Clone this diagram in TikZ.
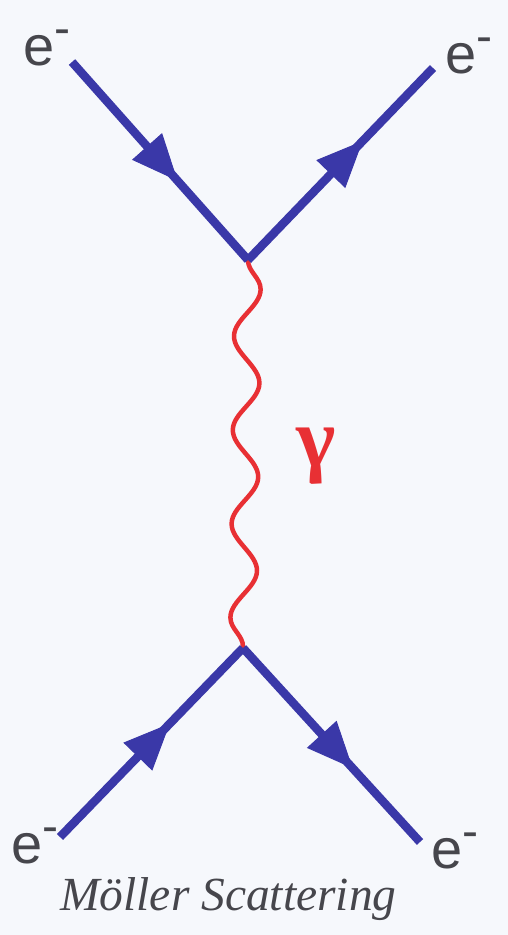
\documentclass[tikz,border=0pt]{standalone}
\usepackage{fontspec}
\usetikzlibrary{arrows.meta,decorations.markings,decorations.pathmorphing}
\newfontfamily\labelfont{Liberation Sans}
\newfontfamily\seriffont{Liberation Serif}
\definecolor{elecblue}{RGB}{58,56,168}
\definecolor{photred}{RGB}{232,48,52}
\definecolor{labelgray}{RGB}{70,70,76}
\definecolor{pagebg}{RGB}{246,248,252}
\newcommand{\eminus}{e\raisebox{0.36em}{\fontsize{48}{48}\selectfont -}}
\tikzset{
  fermion/.style={draw=elecblue, line width=8.5pt, postaction={decorate},
    decoration={markings, mark=at position #1 with {\arrow[elecblue, line width=1pt]{Triangle[length=46pt,width=40pt]}}}},
  photon/.style={draw=photred, line width=4.5pt, decorate,
    decoration={snake, segment length=93.8pt, amplitude=13pt}},
  elabel/.style={text=labelgray, font=\labelfont\fontsize{56}{60}\selectfont, inner sep=0pt, anchor=base west}
}
\begin{document}
\begin{tikzpicture}[x=1pt,y=-1pt]
\fill[pagebg] (0,0) rectangle (508,935);
\useasboundingbox (0,0) rectangle (508,935);
\coordinate (vtop) at (248,260);
\coordinate (vbot) at (243,648);
\coordinate (inA) at (72,62);
\coordinate (outA) at (433,68);
\coordinate (inB) at (60,837);
\coordinate (outB) at (420,842);
\draw[photon] (vtop) -- (vbot);
\draw[fermion=0.6] (inA) -- (vtop);
\draw[fermion=0.62] (vtop) -- (outA);
\draw[fermion=0.6] (inB) -- (vbot);
\draw[fermion=0.62] (vbot) -- (outB);
\node[elabel] (lA) at (23,65) {\eminus};
\node[elabel] (lB) at (445,73) {\eminus};
\node[elabel] (lC) at (11,863) {\eminus};
\node[elabel] (lD) at (431,868) {\eminus};
\node[text=photred, font=\seriffont\bfseries\fontsize{84}{88}\selectfont, inner sep=0pt, anchor=base west] (gam) at (296,466) {γ};
\node[text=labelgray, font=\seriffont\itshape\fontsize{47.5}{52}\selectfont, inner sep=0pt, anchor=base west] (cap) at (60,910) {Möller Scattering};
\end{tikzpicture}
\end{document}
